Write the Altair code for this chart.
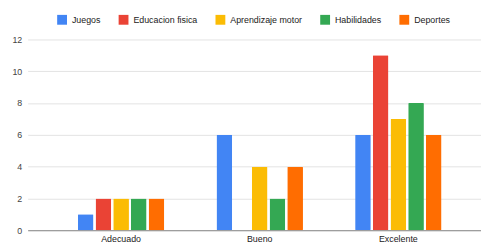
import altair as alt
import pandas as pd

categories = ["Adecuado", "Bueno", "Excelente"]
series = ["Juegos", "Educacion fisica", "Aprendizaje motor", "Habilidades", "Deportes"]
colors = ["#4285F4", "#EA4335", "#FBBC04", "#34A853", "#FF6D01"]
juegos = [1, 6, 6]
educacion = [2, 0, 11]
aprendizaje = [2, 4, 7]
habilidades = [2, 2, 8]
deportes = [2, 4, 6]

values = [juegos, educacion, aprendizaje, habilidades, deportes]
rows = []
for s, vals in zip(series, values):
    for c, v in zip(categories, vals):
        rows.append({"cat": c, "serie": s, "valor": v})
df = pd.DataFrame(rows)

FONT = "Liberation Sans"

chart = alt.Chart(df).mark_bar(cornerRadius=1).encode(
    x=alt.X("cat:N", sort=categories, title=None,
            scale=alt.Scale(paddingInner=0.362, paddingOuter=0.316, align=0.5616, round=False),
            axis=alt.Axis(labelAngle=0, ticks=False, domain=True, domainColor="#888888",
                          labelFont=FONT, labelFontSize=9, labelColor="#222222", labelPadding=4)),
    xOffset=alt.XOffset("serie:N", sort=series,
                        scale=alt.Scale(paddingInner=0.111, paddingOuter=0.055, round=False)),
    y=alt.Y("valor:Q", title=None,
            scale=alt.Scale(domain=[0, 12], nice=False),
            axis=alt.Axis(values=[0, 2, 4, 6, 8, 10, 12], ticks=False, domain=False,
                          gridColor="#e2e2e2", labelFont=FONT, labelFontSize=9,
                          labelColor="#444444", labelPadding=6)),
    color=alt.Color("serie:N", sort=series,
                    scale=alt.Scale(domain=series, range=colors),
                    legend=alt.Legend(title=None, orient="none", legendX=30, legendY=-25,
                                      direction="horizontal", symbolType="square",
                                      symbolSize=100, symbolStrokeWidth=0,
                                      labelFont=FONT, labelFontSize=9, labelColor="#222222",
                                      columnPadding=17.5, labelOffset=5)),
).properties(
    width=461, height=194,
    padding={"left": 20, "top": 30, "right": 0, "bottom": 12},
    autosize=alt.AutoSizeParams(type="none"),
).configure_view(stroke=None)

chart.save("out.html", embed_options={"renderer": "svg", "actions": False})
